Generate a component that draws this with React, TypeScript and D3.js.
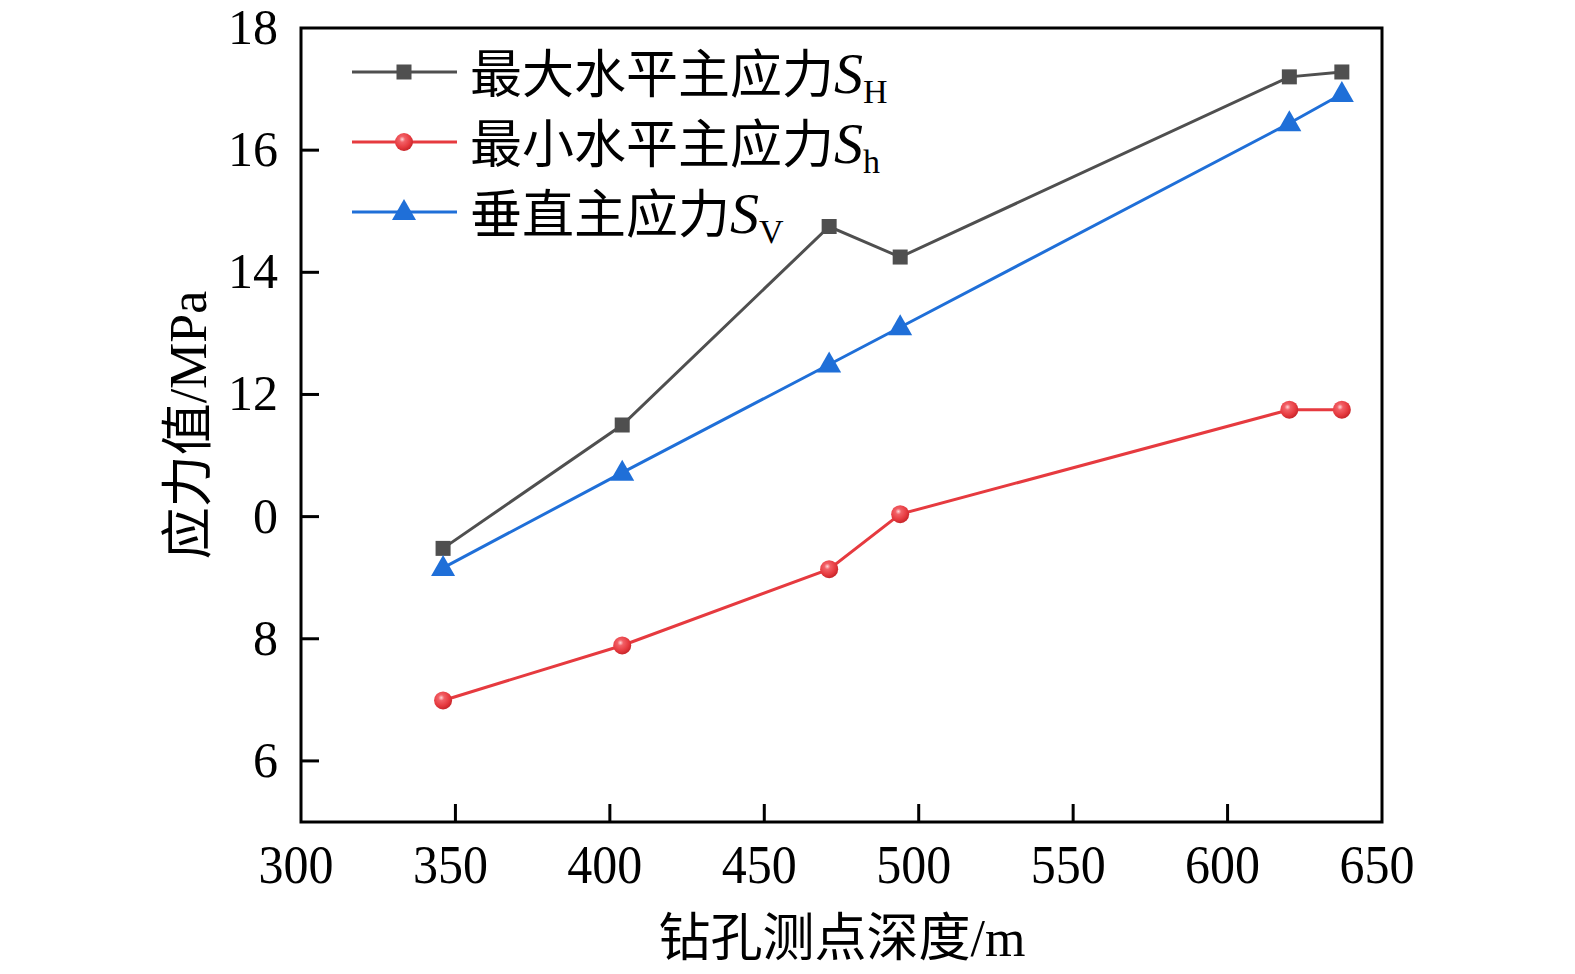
import React, { useLayoutEffect } from "react";
import * as d3 from "d3";

const depths = [346, 404, 471, 494, 620, 637];
const sH = [9.48, 11.5, 14.75, 14.25, 17.2, 17.28];
const sh = [6.99, 7.89, 9.14, 10.04, 11.75, 11.75];
const sV = [9.16, 10.72, 12.49, 13.1, 16.44, 16.92];
const xTicks = [300, 350, 400, 450, 500, 550, 600, 650];
const yTicks = [6, 8, 10, 12, 14, 16, 18];
const yTickLabels = ["6", "8", "0", "12", "14", "16", "18"];
const legendNames = ["最大水平主应力", "最小水平主应力", "垂直主应力"];
const legendSubs = ["H", "h", "V"];

const W = 1575, H = 974;
const L = 301, R = 1382, T = 28, B = 822;
const FONT = "'Liberation Serif', 'Times New Roman', 'Noto Sans CJK SC', serif";

const x = d3.scaleLinear().domain([300, 650]).range([L, R]);
const y = d3.scaleLinear().domain([5, 18]).range([B, T]);

const gray = "#4f4f4f", red = "#e63a3f", blue = "#1f6fd8";

function Square({ cx, cy }: { cx: number; cy: number }) {
  return <rect x={cx - 7.5} y={cy - 7.5} width={15} height={15} fill={gray} />;
}
function Ball({ cx, cy }: { cx: number; cy: number }) {
  return <circle cx={cx} cy={cy} r={9} fill="url(#ballGrad)" />;
}
function Tri({ cx, cy }: { cx: number; cy: number }) {
  const s = 12;
  return <path d={`M${cx},${cy - 13}L${cx + s},${cy + 8}L${cx - s},${cy + 8}Z`} fill={blue} />;
}

export default function App() {
  useLayoutEffect(() => {
    document.body.style.margin = "0";
    document.body.style.overflow = "hidden";
  }, []);
  const line = d3.line<[number, number]>().x((d) => x(d[0])).y((d) => y(d[1]));
  const series = [
    { vals: sH, color: gray, M: Square },
    { vals: sh, color: red, M: Ball },
    { vals: sV, color: blue, M: Tri },
  ];
  return (
    <div style={{ position: "fixed", left: 0, top: 0, width: W, height: H, overflow: "hidden" }}>
      <svg width={W} height={H} style={{ display: "block", background: "#fff" }}>
        <defs>
          <radialGradient id="ballGrad" cx="0.4" cy="0.35" r="0.65">
            <stop offset="0" stopColor="#ffd6d8" />
            <stop offset="0.25" stopColor="#f26066" />
            <stop offset="0.7" stopColor="#e63a3f" />
            <stop offset="1" stopColor="#c8262b" />
          </radialGradient>
        </defs>
        {series.map((s, i) => (
          <g key={i}>
            <path
              d={line(depths.map((d, j) => [d, s.vals[j]] as [number, number])) || ""}
              fill="none"
              stroke={s.color}
              strokeWidth={3}
            />
            {depths.map((d, j) => (
              <s.M key={j} cx={x(d)} cy={y(s.vals[j])} />
            ))}
          </g>
        ))}
        <rect x={L} y={T} width={R - L} height={B - T} fill="none" stroke="#000" strokeWidth={3} />
        {xTicks.map((t) => (
          <g key={t}>
            {t !== 300 && t !== 650 && (
              <line x1={x(t)} x2={x(t)} y1={B} y2={B - 18} stroke="#000" strokeWidth={3} />
            )}
            <text
              x={x(t) - 5}
              y={883}
              textAnchor="middle"
              fontFamily={FONT}
              fontSize={50}
              transform={`translate(0,883) scale(1,1.1) translate(0,-883)`}
            >
              {t}
            </text>
          </g>
        ))}
        {yTicks.map((t, i) => (
          <g key={t}>
            {t !== 18 && <line x1={L} x2={L + 18} y1={y(t)} y2={y(t)} stroke="#000" strokeWidth={3} />}
            <text x={278} y={y(t) + 16} textAnchor="end" fontFamily={FONT} fontSize={50}>
              {yTickLabels[i]}
            </text>
          </g>
        ))}
        <text x={842} y={956} textAnchor="middle" fontFamily={FONT} fontSize={52}>
          钻孔测点深度/m
        </text>
        <text transform="translate(206,425) rotate(-90)" textAnchor="middle" fontFamily={FONT} fontSize={52}>
          应力值/MPa
        </text>
        {series.map((s, i) => {
          const ly = 72 + i * 70;
          return (
            <g key={i}>
              <line x1={352} x2={457} y1={ly} y2={ly} stroke={s.color} strokeWidth={3} />
              <s.M cx={404} cy={ly} />
              <text x={470} y={ly + 21} fontFamily={FONT} fontSize={52}>
                {legendNames[i]}
                <tspan fontStyle="italic" fontSize={58}>S</tspan>
                <tspan fontSize={34} dy={10}>{legendSubs[i]}</tspan>
              </text>
            </g>
          );
        })}
      </svg>
    </div>
  );
}
